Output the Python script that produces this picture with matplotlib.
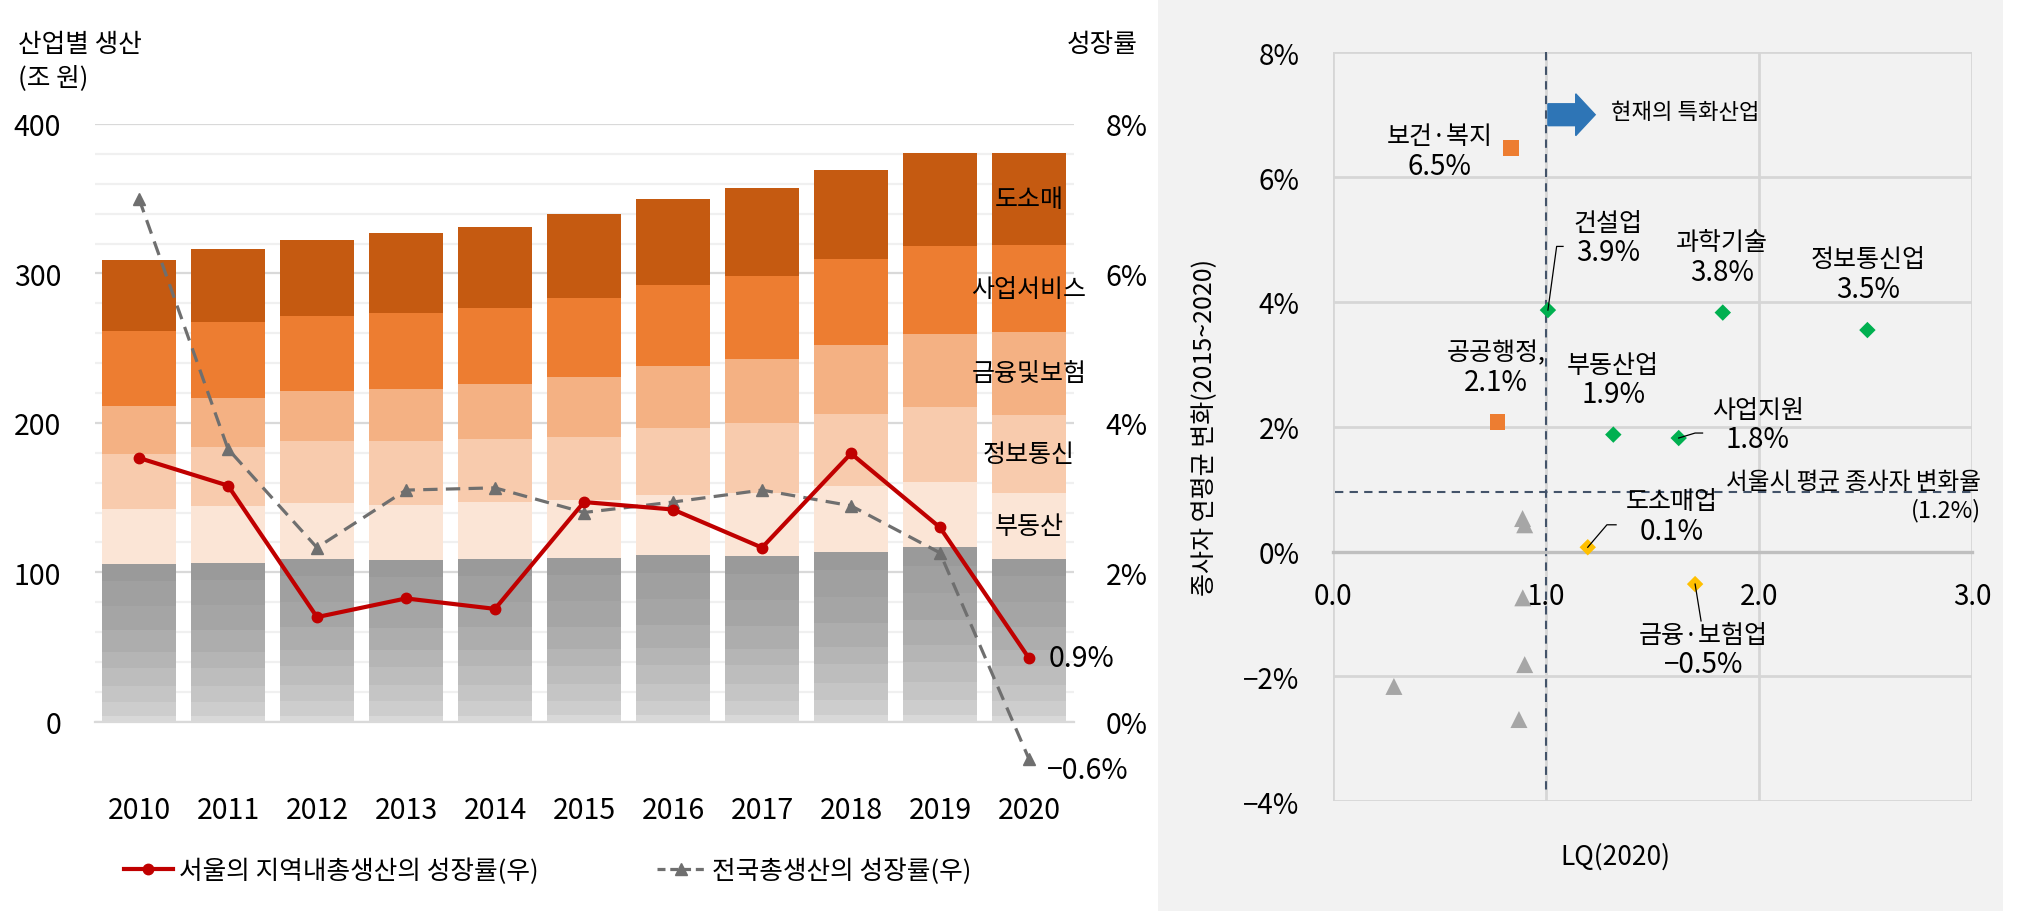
import matplotlib
matplotlib.use('Agg')
import matplotlib.pyplot as plt
from matplotlib.patches import Rectangle, FancyArrow
from matplotlib.lines import Line2D
import matplotlib.ticker as mticker

plt.rcParams['font.family'] = ['Noto Sans CJK KR', 'DejaVu Sans']
plt.rcParams['font.weight'] = 'medium'
plt.rcParams['axes.unicode_minus'] = True

# ---------------- data: left panel ----------------
years = ['2010', '2011', '2012', '2013', '2014', '2015', '2016', '2017', '2018', '2019', '2020']
seg_names = ['기타', '부동산', '정보통신', '금융및보험', '사업서비스', '도소매']
other = [105.5, 106.2, 108.9, 108.2, 108.9, 109.5, 111.5, 110.8, 113.5, 116.8, 108.9]
real_estate = [36.8, 38.1, 37.4, 36.8, 38.1, 38.8, 40.1, 42.2, 44.2, 43.6, 44.1]
info_comm = [36.8, 39.4, 41.5, 42.8, 42.1, 42.1, 44.9, 46.8, 48.1, 50.1, 52.1]
finance = [32.1, 32.8, 33.4, 34.8, 36.8, 40.2, 41.5, 42.8, 46.2, 48.8, 55.6]
business = [50.1, 51.1, 50.2, 50.8, 50.8, 52.8, 54.1, 55.5, 57.5, 58.9, 58.2]
retail = [47.5, 48.6, 50.8, 53.5, 54.2, 56.2, 57.5, 58.9, 59.5, 62.2, 61.5]
seoul_growth = [3.53, 3.16, 1.40, 1.65, 1.51, 2.94, 2.84, 2.33, 3.59, 2.60, 0.85]
nation_growth = [7.0, 3.65, 2.33, 3.10, 3.13, 2.80, 2.94, 3.10, 2.89, 2.26, -0.5]
seoul_label = '0.9%'
nation_label = '−0.6%'
legend_labels = ['서울의 지역내총생산의 성장률(우)', '전국총생산의 성장률(우)']

# ---------------- data: right panel ----------------
orange_names = ['보건·복지', '공공행정,']
orange_lq = [0.834, 0.772]
orange_gr = [6.47, 2.08]
orange_lbl = ['6.5%', '2.1%']
green_names = ['건설업', '과학기술', '정보통신업', '부동산업', '사업지원']
green_lq = [1.009, 1.83, 2.509, 1.316, 1.623]
green_gr = [3.87, 3.83, 3.55, 1.875, 1.82]
green_lbl = ['3.9%', '3.8%', '3.5%', '1.9%', '1.8%']
yellow_names = ['도소매업', '금융·보험업']
yellow_lq = [1.196, 1.70]
yellow_gr = [0.07, -0.52]
yellow_lbl = ['0.1%', '−0.5%']
gray_lq = [0.89, 0.90, 0.891, 0.90, 0.286, 0.873]
gray_gr = [0.53, 0.43, -0.74, -1.81, -2.16, -2.69]
seoul_avg_line = 0.95
seoul_avg_text = ['서울시 평균 종사자 변화율', '(1.2%)']

# ---------------- figure ----------------
W, H = 2019, 912
fig = plt.figure(figsize=(W / 100, H / 100), dpi=100)
fig.patch.set_facecolor('white')

def fx(px):
    return px / W

def fy(py):
    return 1 - py / H

# gray background of right panel
fig.patches.append(Rectangle((fx(1158), 0), fx(2003) - fx(1158), 1,
                             transform=fig.transFigure, facecolor='#F2F2F2',
                             edgecolor='none', zorder=-5))

# ================= LEFT PANEL =================
axb = fig.add_axes([fx(94.5), fy(722.7), fx(1073.5) - fx(94.5), fy(125) - fy(722.7)])
axb.set_facecolor('none')
x = list(range(len(years)))
bw = 0.83

# gray base with gradient-like bands
band_fr = [0.0, 0.038, 0.127, 0.228, 0.34, 0.442, 0.581, 0.736, 0.894, 1.0]
band_col = ['#D8D8D8', '#CDCDCD', '#C5C5C5', '#BDBDBD', '#B5B5B5', '#ADADAD', '#A5A5A5', '#A0A0A0', '#9A9A9A']
for i in range(len(band_col)):
    lo = [v * band_fr[i] for v in other]
    hi = [v * (band_fr[i + 1] - band_fr[i]) for v in other]
    axb.bar(x, hi, bottom=lo, width=bw, color=band_col[i], edgecolor='none', zorder=2)

seg_vals = [real_estate, info_comm, finance, business, retail]
seg_cols = ['#FBE5D6', '#F8CBAD', '#F4B183', '#ED7D31', '#C55A11']
bottom = list(other)
mids = []
for vals, col in zip(seg_vals, seg_cols):
    axb.bar(x, vals, bottom=bottom, width=bw, color=col, edgecolor='none', zorder=2)
    mids.append(bottom[-1] + vals[-1] / 2)
    bottom = [b + v for b, v in zip(bottom, vals)]

for name, m in zip(seg_names[1:], mids):
    axb.text(x[-1], m, name, ha='center', va='center', fontsize=18, color='black', zorder=5)

axb.set_xlim(-0.5, 10.5)
axb.set_ylim(0, 400)
axb.set_yticks([0, 100, 200, 300, 400])
axb.set_yticks(list(range(0, 401, 20)), minor=True)
axb.grid(axis='y', which='major', color='#D9D9D9', lw=1.6, zorder=0)
axb.grid(axis='y', which='minor', color='#F0F0F0', lw=1.6, zorder=0)
axb.set_axisbelow(True)
for s in ['top', 'left', 'right']:
    axb.spines[s].set_visible(False)
axb.spines['bottom'].set_color('#D9D9D9')
axb.spines['bottom'].set_linewidth(1.6)
axb.set_xticks(x)
axb.set_xticklabels(years)
axb.tick_params(axis='x', length=0, pad=53, labelsize=20.5)
axb.tick_params(axis='y', which='both', length=0, pad=24, labelsize=20.5)

axl = axb.twinx()
axl.set_ylim(0, 8)
axl.set_yticks([0, 2, 4, 6, 8])
axl.yaxis.set_major_formatter(mticker.FuncFormatter(lambda v, p: f'{v:.0f}%'))
axl.tick_params(axis='y', length=0, pad=23, labelsize=20.5)
for s in axl.spines.values():
    s.set_visible(False)
ln_n, = axl.plot(x, nation_growth, color='#6F6F6F', lw=2.3, ls=(0, (4.5, 2.6)),
                 marker='^', ms=9, clip_on=False, zorder=3)
ln_s, = axl.plot(x, seoul_growth, color='#C00000', lw=3.0, marker='o', ms=7.5,
                 clip_on=False, zorder=4)
axl.text(x[-1] + 0.22, seoul_growth[-1], seoul_label, ha='left', va='center', fontsize=20.5)
axl.text(x[-1] + 0.2, nation_growth[-1] - 0.15, nation_label, ha='left', va='center', fontsize=20.5)

fig.text(fx(18), fy(44.5), '산업별 생산', ha='left', va='center', fontsize=18.5)
fig.text(fx(18), fy(78.5), '(조 원)', ha='left', va='center', fontsize=18.5)
fig.text(fx(1067), fy(44.5), '성장률', ha='left', va='center', fontsize=18.5)

h_n = Line2D([], [], color='#6F6F6F', lw=2.3, ls=(0, (2.5, 1.5)), marker='^', ms=9)
fig.legend([ln_s, h_n], legend_labels, loc='center left',
           bbox_to_anchor=(fx(124), fy(872)), ncol=2, frameon=False,
           borderpad=0, borderaxespad=0, handlelength=1.9, handletextpad=0.25,
           columnspacing=4.6, fontsize=18.5, numpoints=1)

# ================= RIGHT PANEL =================
axr = fig.add_axes([fx(1333), fy(802.3), fx(1972) - fx(1333), fy(53.3) - fy(802.3)])
axr.set_facecolor('#F2F2F2')
axr.set_xlim(0, 3)
axr.set_ylim(-4, 8)
axr.set_xticks([0, 1, 2, 3])
axr.set_xticklabels(['0.0', '1.0', '2.0', '3.0'])
axr.set_yticks([-4, -2, 0, 2, 4, 6, 8])
axr.yaxis.set_major_formatter(mticker.FuncFormatter(
    lambda v, p: (f'{v:.0f}%').replace('-', '−')))
axr.grid(True, color='#D6D6D6', lw=2.0, zorder=0)
axr.set_axisbelow(True)
for s in ['top', 'left', 'right']:
    axr.spines[s].set_visible(False)
axr.spines['bottom'].set_position(('data', 0))
axr.spines['bottom'].set_color('#BFBFBF')
axr.spines['bottom'].set_linewidth(2.4)
axr.tick_params(axis='x', length=0, pad=21, labelsize=20)
axr.tick_params(axis='y', length=0, pad=24, labelsize=20)

# reference lines
axr.plot([1, 1], [8, -3.82], color='#44546A', lw=1.5, ls=(0, (4, 3)), zorder=2)
axr.plot([0.01, 3], [seoul_avg_line, seoul_avg_line], color='#44546A', lw=1.5,
         ls=(0, (4, 3)), zorder=2)

axr.scatter(gray_lq, gray_gr, marker='^', s=150, color='#A6A6A6', edgecolor='none', zorder=3)
axr.scatter(orange_lq, orange_gr, marker='s', s=130, color='#ED7D31', edgecolor='none', zorder=3)
axr.scatter(green_lq, green_gr, marker='D', s=70, color='#00B050', edgecolor='none', zorder=3)
axr.scatter(yellow_lq, yellow_gr, marker='D', s=70, color='#FFC000', edgecolor='none', zorder=3)

# labels (block centers, layout only)
names = orange_names + green_names + yellow_names
vals = orange_lbl + green_lbl + yellow_lbl
blocks = [(0.50, 6.42), (0.765, 2.955),
          (1.291, 5.03), (1.826, 4.72), (2.512, 4.45), (1.315, 2.76), (1.995, 2.04),
          (1.59, 0.57), (1.74, -1.57)]
dy = 0.235
for nm, vl, (bx, by) in zip(names, vals, blocks):
    axr.text(bx, by + dy, nm, ha='center', va='center', fontsize=18, zorder=5)
    axr.text(bx, by - dy, vl, ha='center', va='center', fontsize=20, zorder=5)

# leader lines
leaders = [
    [(green_lq[0], green_gr[0]), (1.050, 4.89), (1.080, 4.89)],
    [(green_lq[4], green_gr[4]), (1.70, 1.90), (1.735, 1.90)],
    [(yellow_lq[0], yellow_gr[0]), (1.286, 0.43), (1.329, 0.43)],
    [(yellow_lq[1], yellow_gr[1]), (1.728, -1.11)],
]
for pts in leaders:
    axr.plot([p[0] for p in pts], [p[1] for p in pts], color='black', lw=0.9, zorder=4)

# arrow + text
axr.add_patch(FancyArrow(1.009, 7.0, 0.222, 0, width=0.35, head_width=0.67,
                         head_length=0.0915, length_includes_head=True,
                         color='#2E75B6', zorder=4))
axr.text(1.305, 7.05, '현재의 특화산업', ha='left', va='center', fontsize=16)

axr.text(3.042, 1.13, seoul_avg_text[0], ha='right', va='center', fontsize=17, clip_on=False)
axr.text(3.042, 0.67, seoul_avg_text[1], ha='right', va='center', fontsize=17, clip_on=False)

fig.text(fx(1205), fy(428), '종사자 연평균 변화(2015~2020)', rotation=90,
         ha='center', va='center', fontsize=18)
fig.text(fx(1615), fy(857), 'LQ(2020)', ha='center', va='center', fontsize=19)

fig.savefig('out.png', dpi=100, facecolor=fig.get_facecolor())
